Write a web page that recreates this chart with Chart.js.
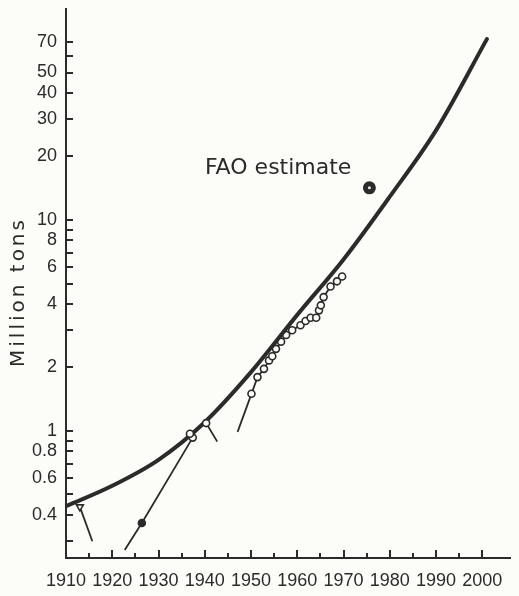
<!DOCTYPE html>
<html>
<head>
<meta charset="utf-8">
<title>Million tons</title>
<script src="https://cdn.jsdelivr.net/npm/chart.js@4"></script>
<style>
  html, body { margin: 0; padding: 0; background: #fcfcf9; }
  #wrap { width: 519px; height: 596px; }
</style>
</head>
<body>
<div id="wrap"><canvas id="TonsChart" width="519" height="596"></canvas></div>
<script>
//
//
// Data
var curveYears = [1910, 1920, 1930, 1940, 1950, 1960, 1970, 1980, 1990, 2001];
var curveTons  = [0.44, 0.55, 0.73, 1.1, 1.9, 3.55, 6.5, 12.9, 26.6, 72];

var earlyYears = [1913.0, 1915.7];
var earlyTons  = [0.437, 0.30];

var midYears = [1922.7, 1926.4, 1937.4, 1936.8, 1940.3, 1942.7];
var midTons  = [0.273, 0.366, 0.93, 0.97, 1.09, 0.89];

var lateYears = [1947.1, 1950.1, 1951.4, 1952.8, 1953.9, 1954.6, 1955.4, 1956.5, 1957.6, 1958.9,
                 1960.7, 1961.8, 1962.9, 1964.1, 1964.7, 1965.1, 1965.7, 1967.2, 1968.6, 1969.7];
var lateTons  = [0.99, 1.50, 1.80, 1.97, 2.16, 2.26, 2.45, 2.65, 2.85, 3.0,
                 3.17, 3.32, 3.44, 3.44, 3.73, 3.94, 4.31, 4.84, 5.12, 5.40];

var faoYear = [1975.6];
var faoTons = [14.2];
var faoLabel = 'FAO estimate';

var xTickYears = [1910, 1920, 1930, 1940, 1950, 1960, 1970, 1980, 1990, 2000];
var xMinorYears = [1915, 1925, 1935, 1945, 1955, 1965, 1975, 1985, 1995];
var yTickValues = [0.4, 0.6, 0.8, 1, 2, 4, 6, 8, 10, 20, 30, 40, 50, 70];
var yMinorValues = [0.3, 0.5, 0.7, 0.9, 3, 5, 7, 9, 60];
var yTitle = 'Million tons';

var ink = '#2b2b2b';
var paper = '#fcfcf9';

function toPoints(xs, ys){
  var pts = [];
  for (var i = 0; i < xs.length; i++){
    pts.push({ x: xs[i], y: ys[i] });
  }
  return pts;
}

//
//
// Inner tick marks, axis title and annotation
var axisExtras = {
  id: 'axisExtras',
  afterDraw: function(chart){
    var ctx = chart.ctx;
    var area = chart.chartArea;
    var xs = chart.scales.x;
    var ys = chart.scales.y;

    ctx.save();
    ctx.strokeStyle = ink;
    ctx.lineWidth = 2;
    ctx.beginPath();

    // y ticks point into the plot
    yTickValues.concat(yMinorValues).forEach(function(v){
      var py = Math.round(ys.getPixelForValue(v));
      ctx.moveTo(area.left, py);
      ctx.lineTo(area.left + 7, py);
    });

    // x ticks, long on decades and short on the fives
    xTickYears.forEach(function(v){
      var px = Math.round(xs.getPixelForValue(v));
      ctx.moveTo(px, area.bottom);
      ctx.lineTo(px, area.bottom - 8);
    });
    xMinorYears.forEach(function(v){
      var px = Math.round(xs.getPixelForValue(v));
      ctx.moveTo(px, area.bottom);
      ctx.lineTo(px, area.bottom - 5);
    });
    ctx.stroke();

    // y title
    ctx.fillStyle = ink;
    ctx.font = '20px "DejaVu Sans"';
    ctx.letterSpacing = '3px';
    ctx.textAlign = 'center';
    ctx.textBaseline = 'middle';
    ctx.translate(19, 292);
    ctx.rotate(-Math.PI / 2);
    ctx.fillText(yTitle, 0, 0);
    ctx.restore();

    // FAO label, up and left of its point
    var fx = xs.getPixelForValue(faoYear[0]);
    var fy = ys.getPixelForValue(faoTons[0]);
    ctx.save();
    ctx.fillStyle = ink;
    ctx.font = '22px "DejaVu Sans"';
    ctx.textAlign = 'right';
    ctx.textBaseline = 'alphabetic';
    ctx.fillText(faoLabel, fx - 18, fy - 14);
    ctx.restore();
  }
};

//
//
// Draw Chart (lower order is painted on top)
var tons_chart = document.getElementById('TonsChart').getContext('2d');

new Chart(tons_chart, {
  type: 'scatter',
  data: {
    datasets: [{
      data: toPoints(curveYears, curveTons),
      order: 1,
      showLine: true,
      borderColor: ink,
      borderWidth: 4,
      borderCapStyle: 'round',
      cubicInterpolationMode: 'monotone',
      pointRadius: 0
    }, {
      data: toPoints(earlyYears, earlyTons),
      order: 0,
      showLine: true,
      borderColor: ink,
      borderWidth: 1.8,
      pointStyle: 'triangle',
      rotation: 180,
      pointRadius: [4, 0],
      pointBorderWidth: 1.6,
      pointBorderColor: ink,
      pointBackgroundColor: paper
    }, {
      data: toPoints(midYears, midTons),
      order: 0,
      showLine: true,
      borderColor: ink,
      borderWidth: 1.8,
      pointRadius: [0, 3.5, 3.5, 3.5, 3.5, 0],
      pointBorderWidth: 1.6,
      pointBorderColor: ink,
      pointBackgroundColor: [paper, ink, paper, paper, paper, paper]
    }, {
      data: toPoints(lateYears, lateTons),
      order: 2,
      showLine: true,
      borderColor: ink,
      borderWidth: 1.8,
      pointRadius: lateYears.map(function(y, i){ return i === 0 ? 0 : 3.5; }),
      pointBorderWidth: 1.6,
      pointBorderColor: ink,
      pointBackgroundColor: paper
    }, {
      data: toPoints(faoYear, faoTons),
      order: 0,
      pointRadius: 4,
      pointBorderWidth: 5,
      pointBorderColor: ink,
      pointBackgroundColor: '#e8e8e4'
    }]
  },
  options: {
    responsive: false,
    animation: false,
    layout: {
      padding: { top: 8, right: 7, left: 0, bottom: 0 }
    },
    plugins: {
      legend: { display: false },
      tooltip: { enabled: false }
    },
    scales: {
      x: {
        type: 'linear',
        min: 1910,
        max: 2006,
        afterBuildTicks: function(scale){
          scale.ticks = xTickYears.map(function(v){ return { value: v }; });
        },
        afterFit: function(scale){
          scale.height = 38;
          scale.paddingLeft = 0;
          scale.paddingRight = 0;
        },
        grid: { drawOnChartArea: false, drawTicks: false },
        border: { color: ink, width: 2 },
        ticks: {
          autoSkip: false,
          maxRotation: 0,
          padding: 12,
          color: ink,
          font: { family: '"Liberation Sans"', size: 18 },
          callback: function(v){ return String(v); }
        }
      },
      y: {
        type: 'logarithmic',
        min: 0.25,
        max: 100,
        afterBuildTicks: function(scale){
          scale.ticks = yTickValues.map(function(v){ return { value: v }; });
        },
        afterFit: function(scale){
          // labels sit well inside the range, so no extra room at the ends
          scale.width = 66;
          scale.paddingTop = 0;
          scale.paddingBottom = 0;
        },
        grid: { drawOnChartArea: false, drawTicks: false },
        border: { color: ink, width: 2 },
        ticks: {
          autoSkip: false,
          padding: 9,
          color: ink,
          font: { family: '"Liberation Sans"', size: 18 },
          callback: function(v){ return String(v); }
        }
      }
    }
  },
  plugins: [axisExtras]
});
</script>
</body>
</html>
